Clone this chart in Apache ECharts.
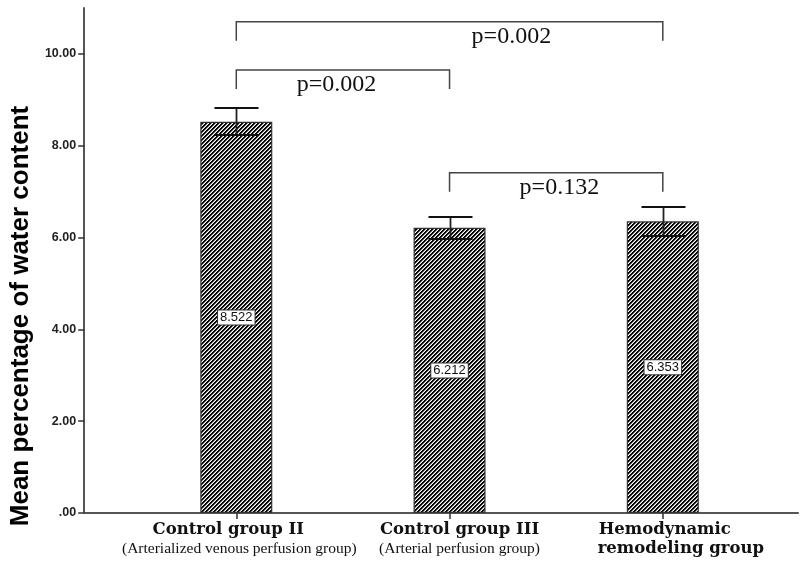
<!DOCTYPE html>
<html><head><meta charset="utf-8">
<script src="https://cdn.jsdelivr.net/npm/echarts@6/dist/echarts.min.js"></script>
<style>html,body{margin:0;padding:0;background:#fff}#c{width:800px;height:565px}</style>
</head><body><div id="c"></div>
<script>
// ---- data ----
const categories = ['Control group II', 'Control group III', 'Hemodynamic\nremodeling group'];
const subtitles = ['(Arterialized venous perfusion group)', '(Arterial perfusion group)', ''];
const means = [8.522, 6.212, 6.353];
const errors = [0.29, 0.24, 0.31];
const yTicks = [0, 2, 4, 6, 8, 10];
const compareFrom = [0, 0, 1];
const compareTo = [2, 1, 2];
const compareLevel = [10.70, 9.65, 7.41];
const pLabels = ['p=0.002', 'p=0.002', 'p=0.132'];
const pLabelAt = [1.29, 0.47, 1.515];

// ---- hatch pattern ----
function hatch() {
  const n = 4;
  const c = document.createElement('canvas'); c.width = n; c.height = n;
  const ctx = c.getContext('2d'); const img = ctx.createImageData(n, n);
  const shade = [5, 5, 150, 255];
  for (let y = 0; y < n; y++) for (let x = 0; x < n; x++) {
    const i = (y * n + x) * 4; const v = shade[(x + y) % n];
    img.data[i] = img.data[i + 1] = img.data[i + 2] = v; img.data[i + 3] = 255;
  }
  ctx.putImageData(img, 0, 0); return c;
}

const chart = echarts.init(document.getElementById('c'), null, {renderer: 'canvas'});
const axisColor = '#555';
const labelShift = [[-16, 6], [20, 20], [4, 36]];
const rich = {};
for (let i = 0; i < 3; i++) {
  const s = labelShift[i];
  const pad = v => v >= 0 ? [0, 0, 0, v] : [0, -v, 0, 0];
  rich['a' + i] = {fontFamily: 'DejaVu Serif', fontWeight: 'bold', fontSize: 16.5, color: '#111', lineHeight: 19, padding: pad(s[0])};
  rich['b' + i] = {fontFamily: 'DejaVu Serif', fontWeight: 'bold', fontSize: 16.5, color: '#111', lineHeight: 19, padding: pad(s[1])};
  rich['s' + i] = {fontFamily: 'Liberation Serif', fontSize: 15.5, color: '#111', lineHeight: 19, padding: pad(s[1])};
}

const option = {
  animation: false,
  grid: {left: 80, right: 2, top: 8, bottom: 52},
  xAxis: {
    type: 'value', min: -0.7133, max: 2.634,
    splitLine: {show: false},
    axisLine: {show: true, onZero: false, lineStyle: {color: axisColor, width: 2}},
    axisTick: {show: true, customValues: [0, 1, 2], length: 6, lineStyle: {color: '#333', width: 1.5}},
    axisLabel: {
      customValues: [0, 1, 2], margin: 7, showMinLabel: true, showMaxLabel: true, hideOverlap: false,
      formatter: v => {
        const i = Math.round(v);
        const lines = categories[i].split('\n');
        if (lines.length > 1) return '{a' + i + '|' + lines[0] + '}\n{b' + i + '|' + lines[1] + '}';
        return '{a' + i + '|' + lines[0] + '}\n{s' + i + '|' + subtitles[i] + '}';
      },
      rich: rich
    }
  },
  yAxis: {
    type: 'value', min: 0, max: 11,
    name: 'Mean percentage of water content',
    nameLocation: 'middle', nameGap: 47,
    nameTextStyle: {fontFamily: 'Liberation Sans', fontWeight: 'bold', fontSize: 26, color: '#000', padding: [0, 111, 0, 0]},
    splitLine: {show: false},
    axisLine: {show: true, onZero: false, lineStyle: {color: axisColor, width: 2}},
    axisTick: {show: true, customValues: yTicks, length: 6, lineStyle: {color: '#333', width: 1.5}},
    axisLabel: {
      customValues: yTicks, margin: 8,
      fontFamily: 'Liberation Sans', fontWeight: 'bold', fontSize: 12.5, color: '#222',
      formatter: v => v === 0 ? '.00' : v.toFixed(2)
    }
  },
  series: [
    {
      type: 'bar', barWidth: 72,
      data: means.map((v, i) => [i, v]),
      itemStyle: {color: {image: hatch(), repeat: 'repeat'}, borderColor: '#333', borderWidth: 1.2},
      label: {
        show: true, position: 'inside',
        formatter: p => p.value[1].toFixed(3),
        fontFamily: 'Liberation Sans', fontSize: 13, color: '#111',
        backgroundColor: '#fff', borderColor: '#333', borderWidth: 1, padding: [1, 2, 0, 2]
      },
      z: 2
    },
    {
      type: 'custom',
      data: means.map((v, i) => [i, v - errors[i], v + errors[i]]),
      encode: {x: 0, y: [1, 2]},
      z: 6,
      renderItem: (params, api) => {
        const x = api.value(0);
        const lo = api.coord([x, api.value(1)]);
        const hi = api.coord([x, api.value(2)]);
        const w = 22;
        const cx = Math.round(hi[0]) + 0.5, yh = Math.round(hi[1]), yl = Math.round(lo[1]);
        const st = {stroke: '#111', lineWidth: 2.2};
        return {type: 'group', children: [
          {type: 'line', shape: {x1: cx, y1: yh, x2: cx, y2: yl}, style: {stroke: '#222', lineWidth: 1.8}},
          {type: 'line', shape: {x1: cx - w, y1: yh, x2: cx + w, y2: yh}, style: st},
          {type: 'line', shape: {x1: cx - w, y1: yl, x2: cx + w, y2: yl}, style: st}
        ]};
      }
    },
    {
      type: 'custom',
      data: compareFrom.map((f, i) => [f, compareTo[i], compareLevel[i], pLabelAt[i]]),
      encode: {x: [0, 1], y: 2},
      z: 5,
      renderItem: (params, api) => {
        const a = api.coord([api.value(0), api.value(2)]);
        const b = api.coord([api.value(1), api.value(2)]);
        const t = api.coord([api.value(3), api.value(2)]);
        const drop = 19;
        const st = {stroke: '#444', lineWidth: 1.5};
        return {type: 'group', children: [
          {type: 'polyline', shape: {points: [[a[0], a[1] + drop], [a[0], a[1]], [b[0], b[1]], [b[0], b[1] + drop]]}, style: Object.assign({fill: null}, st)},
          {type: 'text', x: t[0], y: t[1] + 15, style: {text: pLabels[params.dataIndex], fill: '#111',
            font: '24px "Liberation Serif"', align: 'center', verticalAlign: 'middle', textAlign: 'center', textVerticalAlign: 'middle'}}
        ]};
      }
    }
  ]
};
chart.setOption(option);
</script></body></html>
